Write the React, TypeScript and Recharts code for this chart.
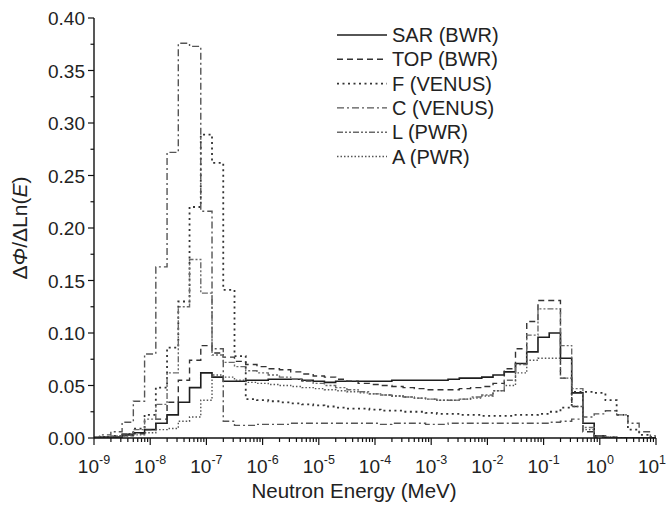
import React from 'react';
import { LineChart, Line, XAxis, YAxis, Legend } from 'recharts';

// Bin edges (log10 of energy in MeV)
const edgeExp = [-9, -8.9, -8.7, -8.5, -8.3, -8.1, -7.9, -7.7, -7.5, -7.3, -7.1, -6.9, -6.7, -6.5, -6.3, -6.1, -5.9, -5.7, -5.5, -5.3, -5.1, -4.9, -4.7, -4.5, -4.3, -4.1, -3.9, -3.7, -3.5, -3.3, -3.1, -2.9, -2.7, -2.5, -2.3, -2.1, -1.9, -1.7, -1.5, -1.3, -1.1, -0.9, -0.7, -0.5, -0.3, -0.1, 0.1, 0.3, 0.5, 0.7, 0.9, 1.0];

const sarBWR = [0.000, 0.001, 0.001, 0.003, 0.005, 0.008, 0.014, 0.022, 0.034, 0.048, 0.062, 0.058, 0.054, 0.054, 0.055, 0.055, 0.056, 0.056, 0.056, 0.055, 0.054, 0.053, 0.054, 0.054, 0.054, 0.054, 0.054, 0.055, 0.055, 0.055, 0.055, 0.055, 0.056, 0.057, 0.057, 0.058, 0.060, 0.063, 0.071, 0.082, 0.096, 0.100, 0.076, 0.043, 0.014, 0.002, 0, 0, 0, 0, 0];
const topBWR = [0.000, 0.001, 0.001, 0.002, 0.004, 0.008, 0.018, 0.034, 0.055, 0.074, 0.088, 0.081, 0.077, 0.073, 0.070, 0.068, 0.066, 0.065, 0.063, 0.061, 0.059, 0.058, 0.056, 0.054, 0.052, 0.051, 0.050, 0.049, 0.048, 0.047, 0.046, 0.046, 0.046, 0.047, 0.048, 0.049, 0.052, 0.066, 0.085, 0.111, 0.131, 0.131, 0.057, 0.030, 0.006, 0.001, 0, 0, 0, 0, 0];
const fVENUS = [0.000, 0.001, 0.002, 0.004, 0.009, 0.022, 0.048, 0.086, 0.130, 0.220, 0.289, 0.262, 0.141, 0.078, 0.037, 0.036, 0.035, 0.034, 0.033, 0.032, 0.031, 0.030, 0.029, 0.028, 0.028, 0.027, 0.026, 0.026, 0.025, 0.025, 0.024, 0.023, 0.023, 0.022, 0.022, 0.021, 0.021, 0.021, 0.022, 0.022, 0.023, 0.025, 0.029, 0.044, 0.044, 0.043, 0.036, 0.022, 0.008, 0.003, 0.001];
const cVENUS = [0.001, 0.003, 0.006, 0.015, 0.035, 0.080, 0.163, 0.272, 0.376, 0.373, 0.216, 0.085, 0.016, 0.012, 0.012, 0.013, 0.013, 0.013, 0.014, 0.014, 0.014, 0.014, 0.014, 0.014, 0.014, 0.014, 0.013, 0.014, 0.014, 0.014, 0.013, 0.013, 0.014, 0.014, 0.014, 0.014, 0.014, 0.014, 0.014, 0.014, 0.014, 0.015, 0.016, 0.018, 0.020, 0.023, 0.026, 0.022, 0.014, 0.006, 0.002];
const lPWR = [0.000, 0.001, 0.002, 0.004, 0.008, 0.018, 0.032, 0.062, 0.125, 0.170, 0.138, 0.079, 0.072, 0.068, 0.064, 0.062, 0.060, 0.058, 0.056, 0.054, 0.052, 0.050, 0.048, 0.046, 0.044, 0.042, 0.041, 0.040, 0.039, 0.038, 0.037, 0.036, 0.036, 0.037, 0.039, 0.041, 0.045, 0.055, 0.070, 0.098, 0.123, 0.123, 0.088, 0.047, 0.010, 0.002, 0.001, 0, 0, 0, 0];
const aPWR = [0.000, 0.000, 0.001, 0.002, 0.003, 0.005, 0.008, 0.009, 0.016, 0.020, 0.036, 0.060, 0.058, 0.055, 0.053, 0.052, 0.051, 0.050, 0.049, 0.048, 0.047, 0.046, 0.045, 0.044, 0.043, 0.042, 0.041, 0.040, 0.039, 0.038, 0.037, 0.036, 0.036, 0.037, 0.038, 0.040, 0.045, 0.050, 0.062, 0.074, 0.076, 0.076, 0.057, 0.030, 0.008, 0.002, 0.001, 0, 0, 0, 0];

const xMajorExp = [-9, -8, -7, -6, -5, -4, -3, -2, -1, 0, 1];
const xMinorMult = [2, 3, 4, 5, 6, 7, 8, 9];
const yMajor = [0, 0.05, 0.1, 0.15, 0.2, 0.25, 0.3, 0.35, 0.4];
const yMinor = [0.025, 0.075, 0.125, 0.175, 0.225, 0.275, 0.325, 0.375];

const seriesList = [
  { key: 'sar', name: 'SAR (BWR)', values: sarBWR, color: '#1e1e1e', dash: undefined as string | undefined, width: 1.6 },
  { key: 'top', name: 'TOP (BWR)', values: topBWR, color: '#333', dash: '6 4', width: 1.4 },
  { key: 'f', name: 'F (VENUS)', values: fVENUS, color: '#333', dash: '2 3.5', width: 1.8 },
  { key: 'c', name: 'C (VENUS)', values: cVENUS, color: '#555', dash: '7 3 2 3', width: 1.4 },
  { key: 'l', name: 'L (PWR)', values: lPWR, color: '#6a6a6a', dash: '6 2 2 2 2 2', width: 1.4 },
  { key: 'a', name: 'A (PWR)', values: aPWR, color: '#555', dash: '1.5 2', width: 1.4 },
];

const rows = edgeExp.map((ex, i) => {
  const r: Record<string, number> = { e: Math.pow(10, ex) };
  seriesList.forEach((s) => {
    r[s.key] = s.values[Math.min(i, s.values.length - 1)];
  });
  return r;
});

const xTicks: number[] = [];
xMajorExp.forEach((ex) => {
  xTicks.push(Math.pow(10, ex));
  if (ex < 1) xMinorMult.forEach((m) => xTicks.push(m * Math.pow(10, ex)));
});
const yTicks = [...yMajor, ...yMinor].sort((a, b) => a - b);

const FONT = '"Liberation Sans", Arial, Helvetica, sans-serif';

const MARGIN = { top: 18, right: 12, bottom: 20, left: 34 };
const CHART_W = 668;
const CHART_H = 508;
const Y_AXIS_W = 60;
const X_AXIS_H = 50;
const AXIS_X = MARGIN.left + Y_AXIS_W;
const AXIS_Y = CHART_H - MARGIN.bottom - X_AXIS_H;

const XTick = (props: any) => {
  const { x, payload } = props;
  const v = payload.value as number;
  const lg = Math.log10(v);
  const major = Math.abs(lg - Math.round(lg)) < 1e-6;
  const y = AXIS_Y;
  const last = Math.round(lg) === xMajorExp[xMajorExp.length - 1];
  return (
    <g>
      <line x1={x} y1={y} x2={x} y2={y + (major ? 7 : 4)} stroke="#111" strokeWidth={1.2} />
      {major && (
        <text x={last ? x - 4 : x} y={y + 35} textAnchor="middle" fontSize={19} fontFamily={FONT} fill="#222">
          10
          <tspan dy={-9} fontSize={12.5}>{String(Math.round(lg))}</tspan>
        </text>
      )}
    </g>
  );
};

const YTick = (props: any) => {
  const { y, payload } = props;
  const v = payload.value as number;
  const major = Math.abs(v / 0.05 - Math.round(v / 0.05)) < 1e-6;
  const x = AXIS_X;
  return (
    <g>
      <line x1={x - (major ? 6 : 3.5)} y1={y} x2={x} y2={y} stroke="#111" strokeWidth={1.2} />
      {major && (
        <text x={x - 9} y={y + 7} textAnchor="end" fontSize={19} fontFamily={FONT} fill="#222">
          {v.toFixed(2)}
        </text>
      )}
    </g>
  );
};

const XTitle = () => (
  <text x={354} y={498} textAnchor="middle" fontSize={20.5} fontFamily={FONT} fill="#222">
    Neutron Energy (MeV)
  </text>
);

const YTitle = () => (
  <text x={27} y={228} textAnchor="middle" fontSize={21} fontFamily={FONT} fill="#222" transform="rotate(-90 27 228)">
    Δ<tspan fontStyle="italic">Φ</tspan>/ΔLn(<tspan fontStyle="italic">E</tspan>)
  </text>
);

const LegendBox = () => (
  <svg width={200} height={150} style={{ display: 'block' }}>
    {seriesList.map((s, i) => {
      const cy = 13 + i * 24.3;
      return (
        <g key={s.key}>
          <line x1={7} y1={cy} x2={57} y2={cy} stroke={s.color} strokeWidth={s.width} strokeDasharray={s.dash} />
          <text x={62} y={cy + 7} fontSize={20} fontFamily={FONT} fill="#222">
            {s.name}
          </text>
        </g>
      );
    })}
  </svg>
);

export default function App() {
  return (
    <div style={{ position: 'absolute', left: 0, top: 0, width: CHART_W, height: CHART_H, background: '#fff', overflow: 'hidden' }}>
      <LineChart width={CHART_W} height={CHART_H} data={rows} margin={MARGIN}>
        <XAxis
          type="number"
          dataKey="e"
          scale="log"
          domain={[1e-9, 10]}
          allowDataOverflow
          ticks={xTicks}
          interval={0}
          tick={<XTick />}
          tickLine={false}
          tickSize={0}
          tickMargin={0}
          height={X_AXIS_H}
          axisLine={{ stroke: '#111', strokeWidth: 1.4 }}
          label={<XTitle />}
        />
        <YAxis
          type="number"
          domain={[0, 0.4]}
          allowDataOverflow
          ticks={yTicks}
          interval={0}
          tick={<YTick />}
          tickLine={false}
          tickSize={0}
          tickMargin={0}
          width={Y_AXIS_W}
          axisLine={{ stroke: '#111', strokeWidth: 1.4 }}
          label={<YTitle />}
        />
        <Legend
          layout="horizontal"
          verticalAlign="middle"
          align="center"
          content={<LegendBox />}
          wrapperStyle={{ position: 'absolute', left: 330, top: 22, width: 200, height: 150 }}
        />
        {seriesList.map((s) => (
          <Line
            key={s.key}
            type="stepAfter"
            dataKey={s.key}
            name={s.name}
            stroke={s.color}
            strokeWidth={s.width}
            strokeDasharray={s.dash}
            dot={false}
            activeDot={false}
            isAnimationActive={false}
          />
        ))}
      </LineChart>
    </div>
  );
}
